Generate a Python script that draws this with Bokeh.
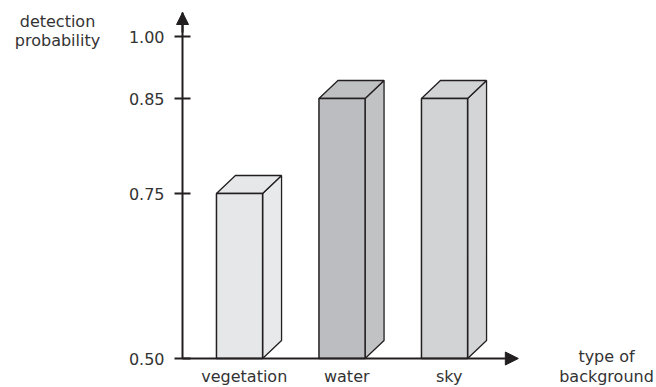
import numpy as np
from bokeh.plotting import figure
from bokeh.models import (Range1d, FixedTicker, Arrow, NormalHead, Label,
                          ColumnDataSource)
from bokeh.embed import file_html
from bokeh.resources import INLINE

# --- data -------------------------------------------------------------
categories = ["vegetation", "water", "sky"]
probabilities = [0.75, 0.85, 0.85]
y_ticks = [0.50, 0.75, 0.85, 1.00]
y_tick_labels = ["0.50", "0.75", "0.85", "1.00"]
front_colors = ["#e6e7e8", "#bcbdc0", "#d2d3d5"]
side_colors = ["#e8e9ea", "#c1c2c4", "#d4d5d7"]
top_colors = ["#e6e7e8", "#bfc0c2", "#d2d3d5"]

# --- schematic (piecewise) value axis ---------------------------------
# the probability axis is drawn unevenly spaced; each tick value gets a slot
tick_slots = [0, 165, 260, 322]
axis_top = 346


def to_axis(v):
    return np.interp(v, y_ticks, tick_slots)


INK = "#231f20"
TEXT = "#333333"
FONT = "DejaVu Sans"
FONT_SIZE = "16px"

bar_width = 0.45
depth_x = 0.185   # horizontal offset of the back faces
depth_y = 18      # vertical offset of the back faces
x_start, x_end = -2.332, 4.068
y_start, y_end = -29, 358
y_axis_at = -0.556      # where the value axis crosses the category axis
x_arrow_end = 2.72

p = figure(width=656, height=387, output_backend="svg", toolbar_location=None,
           x_range=Range1d(x_start, x_end), y_range=Range1d(y_start, y_end),
           min_border=0)
p.outline_line_color = None
p.background_fill_color = "white"
p.border_fill_color = "white"
p.grid.visible = False

xs = np.arange(len(categories), dtype=float)
heights = to_axis(np.array(probabilities))
x0 = xs - bar_width / 2
x1 = xs + bar_width / 2

# side faces
side_x = [[a, a + depth_x, a + depth_x, a] for a in x1]
side_y = [[0, depth_y, h + depth_y, h] for h in heights]
p.patches(side_x, side_y, fill_color=side_colors, line_color=INK,
          line_width=1.3)

# top faces
top_x = [[a, b, b + depth_x, a + depth_x] for a, b in zip(x0, x1)]
top_y = [[h, h, h + depth_y, h + depth_y] for h in heights]
p.patches(top_x, top_y, fill_color=top_colors, line_color=INK, line_width=1.3)

# front faces
src = ColumnDataSource(dict(x=xs, top=heights, color=front_colors))
p.vbar(x="x", top="top", bottom=0, width=bar_width, fill_color="color",
       line_color=INK, line_width=1.5, source=src)

# --- y axis -----------------------------------------------------------
yax = p.yaxis[0]
yax.fixed_location = y_axis_at
yax.bounds = (0, axis_top)
yax.ticker = FixedTicker(ticks=list(tick_slots))
yax.major_label_overrides = {s: lab for s, lab in zip(tick_slots, y_tick_labels)}
yax.minor_tick_line_color = None
yax.major_tick_in = 8
yax.major_tick_out = 8
yax.major_tick_line_width = 2
yax.major_tick_line_color = INK
yax.axis_line_width = 2
yax.axis_line_color = INK
yax.major_label_standoff = 10
yax.major_label_text_font = FONT
yax.major_label_text_font_size = FONT_SIZE
yax.major_label_text_color = TEXT

p.add_layout(Arrow(end=NormalHead(size=12, fill_color=INK, line_color=INK),
                   x_start=y_axis_at, y_start=axis_top - 20,
                   x_end=y_axis_at, y_end=axis_top,
                   line_color=INK, line_width=2))

# --- x axis -----------------------------------------------------------
xax = p.xaxis[0]
xax.fixed_location = 0
label_pos = list(xs + depth_x / 4)
xax.ticker = FixedTicker(ticks=label_pos)
xax.major_label_overrides = {t: c for t, c in zip(label_pos, categories)}
xax.axis_line_color = None
xax.major_tick_line_color = None
xax.minor_tick_line_color = None
xax.major_tick_in = 0
xax.major_tick_out = 0
xax.major_label_standoff = 8
xax.major_label_text_font = FONT
xax.major_label_text_font_size = FONT_SIZE
xax.major_label_text_color = TEXT

p.add_layout(Arrow(end=NormalHead(size=13, fill_color=INK, line_color=INK),
                   x_start=y_axis_at, y_start=0, x_end=x_arrow_end, y_end=0,
                   line_color=INK, line_width=2))

# --- axis titles --------------------------------------------------------
for txt, base in [("detection", 366), ("probability", 347)]:
    p.add_layout(Label(x=57, y=base, x_units="screen", y_units="screen",
                       text=txt, text_align="center", text_baseline="alphabetic",
                       text_font=FONT, text_font_size=FONT_SIZE,
                       text_color=TEXT))
for txt, base in [("type of", 31), ("background", 11)]:
    p.add_layout(Label(x=606, y=base, x_units="screen", y_units="screen",
                       text=txt, text_align="center", text_baseline="alphabetic",
                       text_font=FONT, text_font_size=FONT_SIZE,
                       text_color=TEXT))

open("out.html", "w").write(file_html(p, INLINE))
